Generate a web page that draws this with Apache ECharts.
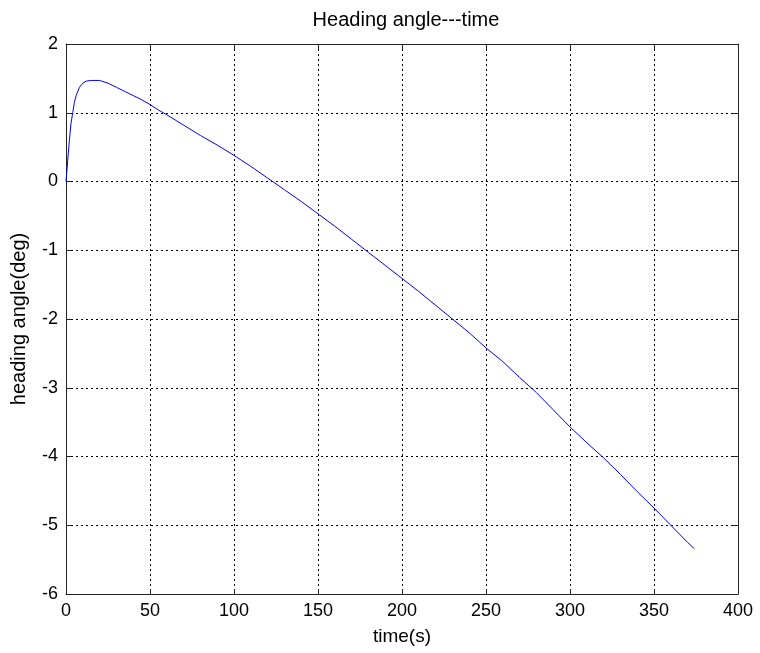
<!DOCTYPE html>
<html>
<head>
<meta charset="utf-8">
<script src="https://cdn.jsdelivr.net/npm/echarts@6/dist/echarts.min.js"></script>
<style>
html,body{margin:0;padding:0;background:#fff;}
#main{width:760px;height:653px;}
</style>
</head>
<body>
<div id="main"></div>
<script>
const timeValues = [0,1,2,3,4,5,6,8,10,12,15,20,25,30,35,40,45,50,55,60,70,80,90,100,110,120,123,130,140,150,160,170,180,190,200,210,220,230,240,250,260,270,280,290,300,310,320,330,340,350,360,370,374];
const headingValues = [0,0.3,0.6,0.85,1.0,1.15,1.25,1.37,1.43,1.46,1.47,1.47,1.43,1.37,1.31,1.25,1.19,1.12,1.04,0.97,0.82,0.67,0.53,0.38,0.22,0.05,0,-0.12,-0.29,-0.47,-0.65,-0.84,-1.03,-1.22,-1.41,-1.60,-1.80,-2.0,-2.2,-2.42,-2.62,-2.85,-3.07,-3.32,-3.57,-3.80,-4.02,-4.26,-4.51,-4.75,-5.0,-5.25,-5.34];
const titleText = 'Heading angle---time';
const xName = 'time(s)';
const yName = 'heading angle(deg)';

const font = 'Liberation Sans, Arial, sans-serif';
const chart = echarts.init(document.getElementById('main'), null, {renderer:'canvas'});
const axisLine = {show:true, onZero:false, lineStyle:{color:'#222', width:1}};
const tick = {show:true, inside:true, length:5, lineStyle:{color:'#222'}};
const split = {show:true, lineStyle:{color:'#000', type:[2,3], width:1}};
chart.setOption({
  backgroundColor:'#fff',
  animation:false,
  title:{text:titleText, left:401, top:5, textAlign:'center',
    textStyle:{fontFamily:font, fontSize:20, fontWeight:'normal', color:'#000'}},
  grid:{left:66, right:22, top:44, bottom:59, containLabel:false},
  xAxis:[{
    type:'value', min:0, max:400, interval:50, position:'bottom',
    axisLine:axisLine, axisTick:tick, splitLine:split,
    axisLabel:{color:'#000', fontFamily:font, fontSize:18, margin:8},
    name:xName, nameLocation:'middle', nameGap:33,
    nameTextStyle:{color:'#000', fontFamily:font, fontSize:19}
  },{
    type:'value', min:0, max:400, interval:50, position:'top',
    axisLine:axisLine, axisTick:tick, splitLine:{show:false}, axisLabel:{show:false}
  }],
  yAxis:[{
    type:'value', min:-6, max:2, interval:1, position:'left',
    axisLine:axisLine, axisTick:tick, splitLine:split,
    axisLabel:{color:'#000', fontFamily:font, fontSize:18, margin:8},
    name:yName, nameLocation:'middle', nameGap:37,
    nameTextStyle:{color:'#000', fontFamily:font, fontSize:20}
  },{
    type:'value', min:-6, max:2, interval:1, position:'right',
    axisLine:axisLine, axisTick:tick, splitLine:{show:false}, axisLabel:{show:false}
  }],
  series:[{
    type:'line', xAxisIndex:0, yAxisIndex:0,
    data:timeValues.map((t,i)=>[t, headingValues[i]]),
    showSymbol:false, symbol:'none', smooth:false,
    lineStyle:{color:'#0000ff', width:1}
  }]
});
</script>
</body>
</html>
